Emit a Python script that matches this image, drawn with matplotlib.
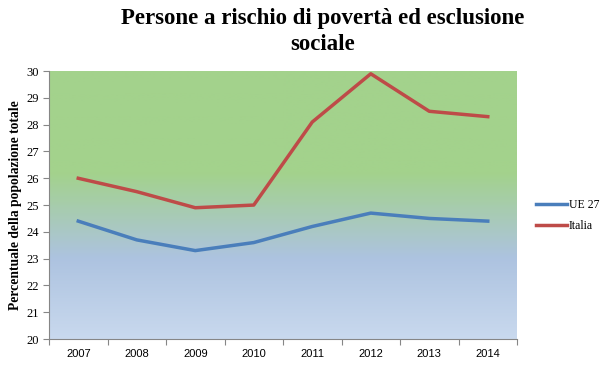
import numpy as np
import matplotlib
matplotlib.use('Agg')
import matplotlib.pyplot as plt
from matplotlib.colors import LinearSegmentedColormap

years = ['2007', '2008', '2009', '2010', '2011', '2012', '2013', '2014']
ue27 = [24.4, 23.7, 23.3, 23.6, 24.2, 24.7, 24.5, 24.4]
italia = [26.0, 25.5, 24.9, 25.0, 28.1, 29.9, 28.5, 28.3]

fig = plt.figure(figsize=(6, 3.65), dpi=100)
ax = fig.add_axes([0.0817, 0.0712, 0.78, 0.734])

# background gradient (bottom -> top)
cmap = LinearSegmentedColormap.from_list('bg', [
    (0.0, '#c9d9ee'), (0.3, '#adc3e0'), (0.62, '#a3d28c'), (1.0, '#a3d28c')])
grad = np.linspace(0, 1, 256).reshape(-1, 1)
ax.imshow(grad, aspect='auto', cmap=cmap, origin='lower',
          extent=[0, 1, 0, 1], transform=ax.transAxes, zorder=0)

x = np.arange(len(years)) + 0.5
ax.plot(x, ue27, color='#4a7ebb', lw=2.5, label='UE 27', zorder=3)
ax.plot(x, italia, color='#be4b48', lw=2.5, label='Italia', zorder=3)

ax.set_xlim(0, len(years))
ax.set_ylim(20, 30)
ax.set_xticks(np.arange(len(years) + 1))
ax.set_xticklabels([])
ax.set_xticks(x, minor=True)
ax.set_xticklabels(years, minor=True, fontsize=8, family='Liberation Sans')
ax.tick_params(axis='x', which='minor', length=0, pad=7)
ax.tick_params(axis='x', which='major', length=4, color='#868686')
ax.set_yticks(range(20, 31))
ax.tick_params(axis='y', length=4, color='#868686', labelsize=9)
for lab in ax.get_yticklabels():
    lab.set_family('Liberation Serif')

for s in ['top', 'right']:
    ax.spines[s].set_visible(False)
for s in ['left', 'bottom']:
    ax.spines[s].set_color('#868686')

ax.set_ylabel('Percentuale della popolazione totale', fontsize=9.8,
              fontweight='bold', family='Liberation Serif', labelpad=3)

fig.suptitle('Persone a rischio di povertà ed esclusione\nsociale',
             fontsize=16.5, fontweight='bold', family='Liberation Serif',
             x=0.537, y=0.977, linespacing=1.3)

ax.legend(loc='center left', bbox_to_anchor=(1.017, 0.46), frameon=False,
          prop={'family': 'Liberation Serif', 'size': 8.5},
          handlelength=2.7, handletextpad=0.1, labelspacing=0.8)

fig.savefig('out.png', dpi=100)
